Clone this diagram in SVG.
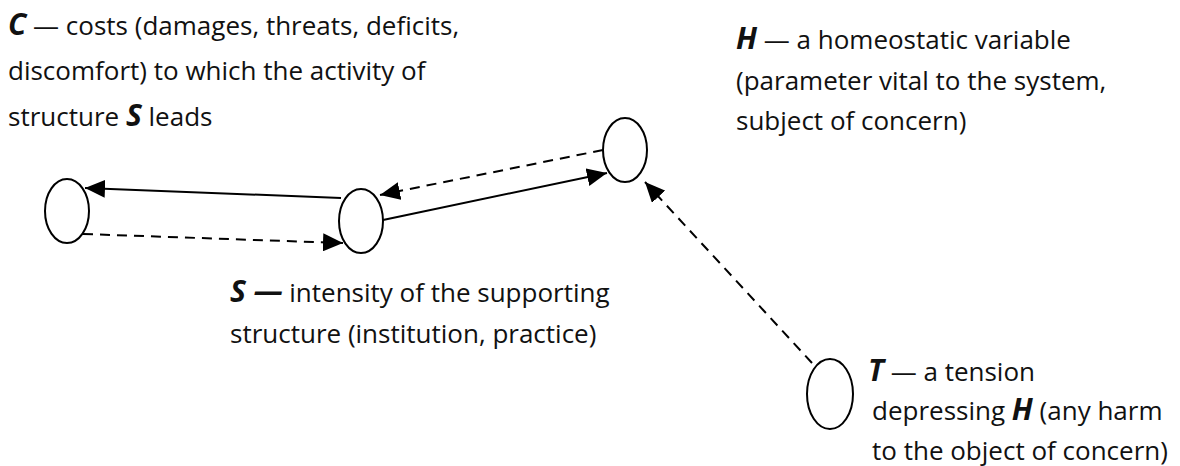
<svg xmlns="http://www.w3.org/2000/svg" width="1180" height="466" viewBox="0 0 1180 466">
<style>
text{font-family:"Open Sans","Noto Sans",sans-serif;font-size:26px;fill:#111}
.b{font-weight:bold;font-style:italic;font-size:30px}
.node{fill:#fff;stroke:#000;stroke-width:2}
.solid{stroke:#000;stroke-width:2;fill:none}
.dash{stroke:#000;stroke-width:2;fill:none;stroke-dasharray:10,7}
</style>
<defs>
<marker id="arr" viewBox="0 0 20 18" refX="20" refY="9" markerWidth="20" markerHeight="18" orient="auto" markerUnits="userSpaceOnUse">
<path d="M0,0 L20,9 L0,18 z" fill="#000"/>
</marker>
</defs>
<g id="connectors">
<line class="solid" x1="341" y1="198" x2="85" y2="188" marker-end="url(#arr)"/>
<line class="dash" x1="83" y1="234" x2="343" y2="243" marker-end="url(#arr)"/>
<line class="dash" x1="603" y1="150" x2="380" y2="195" marker-end="url(#arr)"/>
<line class="solid" x1="383" y1="220" x2="607" y2="173" marker-end="url(#arr)"/>
<line class="dash" x1="812" y1="363" x2="645" y2="182" marker-end="url(#arr)"/>
</g>
<g id="node-C">
<ellipse class="node" cx="67" cy="211" rx="22" ry="32"/>
<text x="8" y="35"><tspan class="b">C</tspan> — costs (damages, threats, deficits,</text>
<text x="8" y="80">discomfort) to which the activity of</text>
<text x="8" y="126">structure <tspan class="b">S</tspan> leads</text>
</g>
<g id="node-S">
<ellipse class="node" cx="361" cy="221" rx="22" ry="32"/>
<text x="230" y="302"><tspan class="b">S —</tspan> intensity of the supporting</text>
<text x="230" y="343">structure (institution, practice)</text>
</g>
<g id="node-H">
<ellipse class="node" cx="625" cy="150" rx="22" ry="32"/>
<text x="736" y="49"><tspan class="b">H</tspan> — a homeostatic variable</text>
<text x="736" y="90">(parameter vital to the system,</text>
<text x="736" y="130">subject of concern)</text>
</g>
<g id="node-T">
<ellipse class="node" cx="830" cy="394" rx="23" ry="35"/>
<text x="868" y="381"><tspan class="b">T</tspan> — a tension</text>
<text x="872" y="420">depressing <tspan class="b">H</tspan> (any harm</text>
<text x="872" y="460">to the object of concern)</text>
</g>
</svg>
